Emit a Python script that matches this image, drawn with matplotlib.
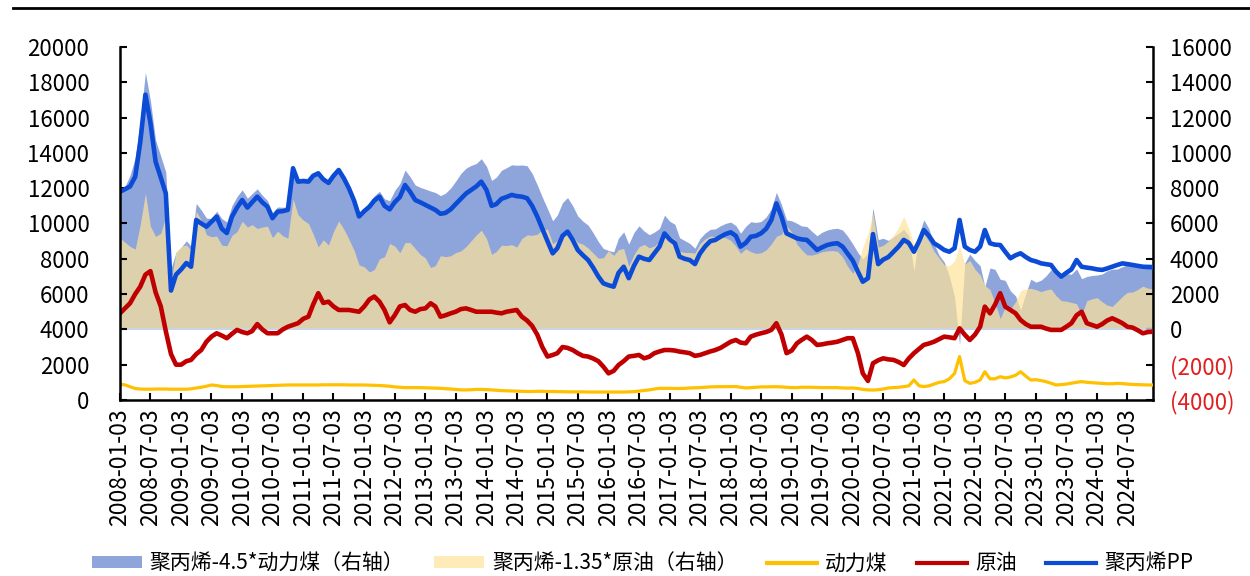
import matplotlib.pyplot as plt
from matplotlib.lines import Line2D
from matplotlib.patches import Patch
import numpy as np
import pandas as pd

plt.rcParams['font.family'] = ['Noto Sans CJK SC', 'DejaVu Sans']
plt.rcParams['axes.unicode_minus'] = False

# 月度价格 2008-01 ~ 2024-12，每行一年
pp = [
    11800, 11950, 12100, 12650, 14600, 17300, 15700, 13500, 12600, 11700, 6200, 7100,
    7400, 7760, 7550, 10200, 10000, 9820, 10100, 10390, 9700, 9460, 10390, 10900,
    11330, 10900, 11200, 11520, 11200, 10950, 10300, 10670, 10700, 10770, 13130, 12370,
    12400, 12370, 12700, 12840, 12500, 12300, 12700, 13030, 12560, 12000, 11300, 10400,
    10700, 10950, 11300, 11520, 11000, 10800, 11200, 11500, 12180, 11800, 11330, 11200,
    11050, 10900, 10770, 10550, 10600, 10800, 11100, 11400, 11700, 11900, 12100, 12370,
    11900, 11000, 11100, 11400, 11500, 11620, 11550, 11520, 11430, 11000, 10390, 9700,
    9000, 8310, 8600, 9300, 9540, 9070, 8500, 8200, 7930, 7500, 7000, 6610,
    6500, 6420, 7200, 7550, 6900, 7600, 8120, 8000, 7930, 8300, 8690, 9440,
    9100, 8880, 8120, 8000, 7930, 7700, 8300, 8700, 9000, 9070, 9250, 9400,
    9500, 9300, 8690, 8900, 9250, 9300, 9440, 9700, 10200, 11140, 10390, 9440,
    9300, 9160, 9100, 9070, 8800, 8500, 8650, 8780, 8850, 8880, 8690, 8300,
    7900, 7270, 6700, 6900, 9400, 7700, 7950, 8100, 8400, 8690, 9070, 8900,
    8400, 9000, 9630, 9300, 8880, 8700, 8500, 8400, 8600, 10200, 8690, 8500,
    8400, 8690, 9630, 8880, 8800, 8780, 8400, 8030, 8200, 8310, 8100, 7930,
    7850, 7740, 7700, 7650, 7270, 6990, 7200, 7400, 7930, 7550, 7500, 7460,
    7400, 7370, 7450, 7550, 7650, 7740, 7700, 7650, 7600, 7550, 7530, 7520,
]
crude = [
    4910, 5200, 5480, 6000, 6420, 7100, 7300, 6100, 5300, 3900, 2600, 2000,
    2000, 2200, 2270, 2600, 2830, 3300, 3590, 3780, 3650, 3500, 3750, 3970,
    3850, 3780, 3900, 4300, 4000, 3780, 3780, 3780, 4000, 4150, 4250, 4350,
    4600, 4720, 5400, 6050, 5500, 5570, 5300, 5100, 5100, 5100, 5050, 5000,
    5300, 5700, 5860, 5570, 5100, 4400, 4800, 5300, 5380, 5100, 5000, 5150,
    5190, 5480, 5300, 4720, 4800, 4910, 5000, 5150, 5190, 5100, 5000, 5000,
    5000, 5000, 4950, 4910, 5000, 5050, 5100, 4720, 4500, 4200, 3700, 3000,
    2460, 2550, 2650, 3000, 2950, 2830, 2650, 2500, 2460, 2350, 2200, 1890,
    1510, 1650, 1980, 2200, 2460, 2500, 2550, 2360, 2450, 2650, 2750, 2830,
    2830, 2800, 2740, 2700, 2650, 2500, 2550, 2650, 2750, 2830, 2950, 3120,
    3300, 3400, 3250, 3210, 3590, 3700, 3780, 3850, 3970, 4350, 3700, 2650,
    2800, 3210, 3400, 3590, 3400, 3120, 3150, 3210, 3250, 3300, 3400, 3500,
    3500, 2650, 1510, 1080, 2080, 2250, 2360, 2300, 2270, 2150, 1980, 2350,
    2650, 2900, 3120, 3200, 3300, 3450, 3590, 3550, 3500, 4060, 3700, 3400,
    3700, 4150, 5290, 4910, 5400, 6050, 5290, 5100, 4910, 4530, 4300, 4150,
    4150, 4150, 4050, 3970, 3970, 3970, 4150, 4350, 4800, 5000, 4350, 4250,
    4150, 4300, 4500, 4630, 4500, 4350, 4150, 4100, 3950, 3780, 3850, 3870,
]
coal = [
    900, 850, 750, 650, 620, 610, 610, 620, 620, 620, 610, 610,
    610, 610, 630, 680, 720, 780, 850, 820, 760, 750, 750, 750,
    760, 770, 780, 790, 800, 810, 820, 830, 840, 850, 850, 850,
    850, 850, 850, 850, 860, 860, 860, 860, 860, 850, 850, 850,
    850, 840, 830, 820, 800, 780, 740, 720, 700, 700, 700, 700,
    690, 680, 670, 660, 640, 620, 600, 570, 570, 580, 600, 600,
    590, 570, 550, 530, 520, 510, 500, 490, 480, 480, 490, 490,
    480, 480, 470, 470, 460, 460, 460, 460, 450, 450, 450, 450,
    450, 450, 450, 450, 460, 470, 500, 540, 570, 620, 660, 660,
    660, 650, 650, 660, 680, 690, 700, 720, 740, 750, 750, 755,
    760, 760, 720, 680, 700, 720, 740, 740, 750, 750, 740, 720,
    700, 700, 720, 720, 720, 710, 700, 700, 700, 700, 680, 670,
    680, 650, 600, 570, 560, 580, 620, 680, 700, 720, 755, 800,
    1130, 800, 760, 800, 900, 1000, 1040, 1200, 1500, 2460, 1100, 940,
    1000, 1130, 1600, 1200, 1200, 1320, 1250, 1300, 1400, 1600, 1350, 1130,
    1150, 1100, 1040, 950, 850, 870, 900, 950, 1000, 1040, 1000, 980,
    960, 940, 920, 920, 940, 930, 900, 880, 870, 860, 850, 850,
]

right_ticks = [-4000, -2000, 0, 2000, 4000, 6000, 8000, 10000, 12000, 14000, 16000]
right_labels = ['(4000)', '(2000)', '0', '2000', '4000', '6000', '8000',
                '10000', '12000', '14000', '16000']
legend_labels = ['聚丙烯-4.5*动力煤（右轴）', '聚丙烯-1.35*原油（右轴）', '动力煤', '原油', '聚丙烯PP']

dates = pd.date_range('2008-01-01', '2024-12-01', freq='MS') + pd.Timedelta(days=2)
tick_dates = pd.date_range('2008-01-01', '2024-07-01', freq='6MS') + pd.Timedelta(days=2)

pp = np.array(pp, dtype=float)
crude = np.array(crude, dtype=float)
coal = np.array(coal, dtype=float)
spread_coal = pp - 4.5 * coal
spread_crude = pp - 1.35 * crude

c_blue_area = '#8EA5DB'
c_beige = '#FFE39A'
c_coal = '#FFC000'
c_crude = '#C00000'
c_pp = '#0B4BD6'

fig = plt.figure(figsize=(12.5, 5.76), dpi=100)
ax = fig.add_axes([0.096, 0.3056, 0.8264, 0.6128])
ax2 = ax.twinx()

# 价差面积图（右轴）
ax2.fill_between(dates, 0, spread_coal, color=c_blue_area, lw=0)
ax2.fill_between(dates, 0, spread_crude, color=c_beige, alpha=0.7, lw=0)
ax2.axhline(0, color='#C9D6EC', lw=1.2)

# 价格曲线（左轴），放在面积图上层
ax.set_zorder(ax2.get_zorder() + 1)
ax.patch.set_visible(False)
ax.plot(dates, coal, color=c_coal, lw=2.3)
ax.plot(dates, crude, color=c_crude, lw=3.3)
ax.plot(dates, pp, color=c_pp, lw=3.3)

ax.set_xlim(dates[0], dates[-1])
ax.set_ylim(0, 20000)
ax.set_yticks(range(0, 20001, 2000))
ax2.set_ylim(-4000, 16000)
ax2.set_yticks(right_ticks, labels=right_labels)
for lab in ax2.get_yticklabels():
    if lab.get_text().startswith('('):
        lab.set_color('#E02020')

ax.set_xticks(tick_dates, labels=[d.strftime('%Y-%m-%d') for d in tick_dates])
ax.tick_params(axis='x', rotation=90, labelsize=16.5, direction='in', length=5, width=1.5, pad=6)
ax.tick_params(axis='y', labelsize=16, direction='in', length=5, width=1.5, pad=22)
ax2.tick_params(axis='y', labelsize=16, direction='in', length=5, width=1.5, pad=12)

for a in (ax, ax2):
    a.spines['top'].set_visible(False)
    for s in ('left', 'right', 'bottom'):
        a.spines[s].set_linewidth(1.8)
ax.spines['right'].set_visible(False)
ax2.spines['left'].set_visible(False)
ax2.spines['bottom'].set_visible(False)

handles = [
    Patch(facecolor=c_blue_area, edgecolor='none'),
    Patch(facecolor='#FFEBB8', edgecolor='none'),
    Line2D([], [], color=c_coal, lw=3),
    Line2D([], [], color=c_crude, lw=3),
    Line2D([], [], color=c_pp, lw=3),
]
fig.legend(handles, legend_labels, loc='center', bbox_to_anchor=(0.514, 0.022),
           ncol=5, frameon=False, fontsize=15, handlelength=2.4, handleheight=0.55,
           columnspacing=1.4, handletextpad=0.4, borderpad=0.1)

fig.add_artist(Line2D([0.01, 1.0], [1 - 8 / 576] * 2, transform=fig.transFigure,
                      color='black', lw=2))

fig.savefig('out.png', dpi=100)
